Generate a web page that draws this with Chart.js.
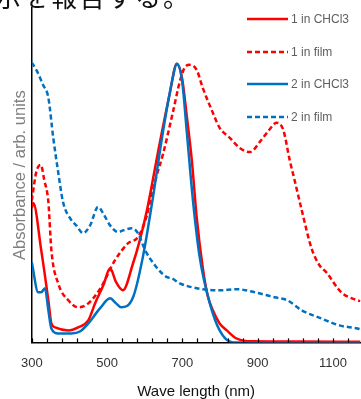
<!DOCTYPE html>
<html>
<head>
<meta charset="utf-8">
<script src="https://cdn.jsdelivr.net/npm/chart.js@4"></script>
<style>
  html, body { margin: 0; padding: 0; background: #fff; overflow: hidden; }
  #wrap { position: relative; width: 361px; height: 399px; }
  #chart { position: absolute; left: 0; top: 0; }
  .caption {
    position: absolute; left: -5px; top: -17px;
    font-family: "Noto Sans CJK JP", sans-serif; font-size: 26px; line-height: 26px;
    letter-spacing: 2px; color: #111; white-space: nowrap;
  }
</style>
</head>
<body>
<div id="wrap">
  <canvas id="chart" width="361" height="399"></canvas>
  <div class="caption">示を報告する。</div>
</div>
<script>
// series labels
const seriesLabels = ['1 in CHCl3', '1 in film', '2 in CHCl3', '2 in film'];

// 1 in CHCl3
const wl1Sol = [300, 304, 325, 344, 352, 362, 397, 423, 450, 468, 490, 508, 524, 542, 569, 587, 606, 640, 667, 685, 699, 712, 725, 738, 754, 767, 781, 799, 818, 844, 887, 1010, 1173];
const abs1Sol = [0.482, 0.500, 0.331, 0.151, 0.068, 0.054, 0.043, 0.054, 0.079, 0.140, 0.205, 0.266, 0.216, 0.187, 0.284, 0.367, 0.475, 0.716, 0.896, 1.0, 0.95, 0.809, 0.655, 0.450, 0.270, 0.169, 0.115, 0.068, 0.043, 0.014, 0.004, 0.003, 0.002];

// 1 in film
const wl1Film = [300, 312, 324, 333, 344, 352, 370, 397, 423, 450, 484, 521, 556, 582, 606, 614, 632, 648, 675, 693, 706, 720, 738, 754, 781, 799, 826, 852, 879, 910, 931, 950, 968, 985, 998, 1017, 1043, 1064, 1082, 1122, 1165, 1173];
const abs1Film = [0.510, 0.612, 0.637, 0.583, 0.504, 0.331, 0.212, 0.151, 0.126, 0.140, 0.198, 0.295, 0.356, 0.378, 0.457, 0.504, 0.600, 0.673, 0.827, 0.935, 0.986, 0.996, 0.978, 0.914, 0.824, 0.770, 0.734, 0.698, 0.683, 0.727, 0.763, 0.788, 0.763, 0.655, 0.583, 0.475, 0.338, 0.277, 0.252, 0.180, 0.151, 0.148];

// 2 in CHCl3
const wl2Sol = [300, 317, 325, 335, 344, 352, 370, 405, 429, 450, 481, 508, 524, 537, 569, 595, 622, 648, 675, 685, 699, 712, 728, 746, 773, 799, 834, 852, 1173];
const abs2Sol = [0.288, 0.180, 0.180, 0.194, 0.115, 0.050, 0.032, 0.032, 0.040, 0.068, 0.122, 0.158, 0.140, 0.126, 0.162, 0.306, 0.522, 0.752, 0.953, 1.0, 0.942, 0.752, 0.511, 0.306, 0.140, 0.043, 0.0, 0.0, 0.0];

// 2 in film
const wl2Film = [300, 312, 330, 344, 357, 370, 383, 405, 418, 436, 455, 476, 492, 508, 529, 545, 566, 582, 601, 627, 659, 672, 693, 754, 799, 844, 892, 945, 979, 1017, 1069, 1117, 1165, 1173];
const abs2Film = [1.004, 0.978, 0.924, 0.878, 0.734, 0.612, 0.504, 0.439, 0.420, 0.392, 0.420, 0.486, 0.457, 0.420, 0.396, 0.403, 0.410, 0.392, 0.331, 0.277, 0.234, 0.230, 0.212, 0.191, 0.187, 0.191, 0.180, 0.162, 0.151, 0.115, 0.086, 0.061, 0.050, 0.047];

// x axis ticks (nm)
const xMin = 300, xMax = 1173;
const xTickValues = [300, 340, 380, 420, 460, 500, 540, 580, 620, 660, 700, 740, 780, 820, 860, 900, 940, 980, 1020, 1060, 1100, 1140];
const xLabelValues = [300, 500, 700, 900, 1100];

const RED = '#ff0000';
const BLUE = '#0070c0';
const DASH = [5, 3];

const pts = (xs, ys) => xs.map((x, i) => ({ x: x, y: ys[i] }));

const lineStyle = (color, dashed, order) => ({
    borderColor: color,
    backgroundColor: color,
    borderWidth: 2.5,
    borderDash: dashed ? DASH : [],
    pointRadius: 0,
    cubicInterpolationMode: 'monotone',
    fill: false,
    order: order
});

// small upward tick marks on the x axis + legend drawn inside plot
const decorations = {
    id: 'decorations',
    afterDraw(chart) {
        const ctx = chart.ctx;
        const xs = chart.scales.x;
        const bottom = chart.chartArea.bottom;
        ctx.save();
        ctx.strokeStyle = '#000';
        ctx.lineWidth = 1.2;
        xTickValues.forEach(v => {
            const px = Math.round(xs.getPixelForValue(v)) + 0.5;
            ctx.beginPath();
            ctx.moveTo(px, bottom);
            ctx.lineTo(px, bottom - 4);
            ctx.stroke();
        });

        const rows = [19, 52, 84, 117];
        chart.data.datasets.forEach((ds, i) => {
            const y = rows[i];
            ctx.beginPath();
            ctx.setLineDash(ds.borderDash);
            ctx.strokeStyle = ds.borderColor;
            ctx.lineWidth = 2.5;
            ctx.moveTo(247, y);
            ctx.lineTo(288, y);
            ctx.stroke();
            ctx.setLineDash([]);
            ctx.fillStyle = '#5f5f5f';
            ctx.font = '12px "Liberation Sans", Arial, sans-serif';
            ctx.textBaseline = 'middle';
            ctx.textAlign = 'left';
            ctx.fillText(ds.label, 291, y + 1);
        });
        ctx.restore();
    }
};

const ctx = document.getElementById('chart').getContext('2d');
new Chart(ctx, {
    type: 'line',
    data: {
        datasets: [
            Object.assign({ label: seriesLabels[0], data: pts(wl1Sol, abs1Sol) }, lineStyle(RED, false, 2)),
            Object.assign({ label: seriesLabels[1], data: pts(wl1Film, abs1Film) }, lineStyle(RED, true, 3)),
            Object.assign({ label: seriesLabels[2], data: pts(wl2Sol, abs2Sol) }, lineStyle(BLUE, false, 0)),
            Object.assign({ label: seriesLabels[3], data: pts(wl2Film, abs2Film) }, lineStyle(BLUE, true, 1))
        ]
    },
    options: {
        responsive: false,
        animation: false,
        layout: { padding: { left: 4, top: 8, right: 0, bottom: 0 } },
        plugins: {
            legend: { display: false },
            tooltip: { enabled: false }
        },
        scales: {
            x: {
                type: 'linear',
                min: xMin,
                max: xMax,
                afterBuildTicks(scale) {
                    scale.ticks = xTickValues.map(v => ({ value: v }));
                },
                grid: { display: false, drawTicks: false },
                border: { display: true, color: '#000', width: 1.5 },
                ticks: {
                    autoSkip: false,
                    maxRotation: 0,
                    padding: 13,
                    color: '#333333',
                    font: { size: 13, family: '"Liberation Sans", Arial, sans-serif' },
                    callback: v => xLabelValues.includes(v) ? String(v) : ''
                },
                title: {
                    display: true,
                    text: 'Wave length (nm)',
                    color: '#111111',
                    padding: { top: 0, bottom: 0 },
                    font: { size: 15, lineHeight: 1, family: '"Liberation Sans", Arial, sans-serif' }
                }
            },
            y: {
                type: 'linear',
                min: 0,
                max: 1.2,
                grid: { display: false, drawTicks: false },
                border: { display: true, color: '#000', width: 1.5 },
                ticks: { display: false },
                title: {
                    display: true,
                    text: 'Absorbance / arb. units',
                    color: '#808080',
                    padding: { top: 7, bottom: 1 },
                    font: { size: 16.5, family: '"Liberation Sans", Arial, sans-serif' }
                }
            }
        }
    },
    plugins: [decorations]
});
</script>
</body>
</html>
